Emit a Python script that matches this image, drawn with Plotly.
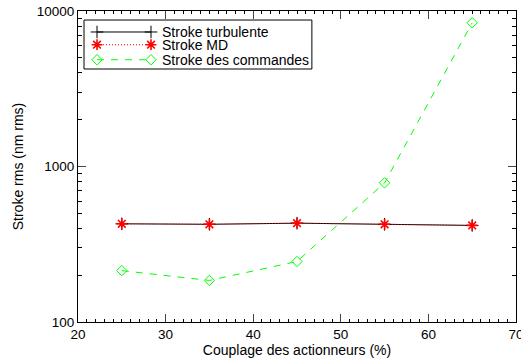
import plotly.graph_objects as go

couplage = [25, 35, 45, 55, 65]
stroke_turb = [428, 425, 432, 425, 418]
stroke_md = [428, 425, 432, 425, 418]
stroke_cmd = [214, 185, 245, 785, 8400]

series_names = ["Stroke turbulente", "Stroke MD", "Stroke des commandes"]
x_ticks = [20, 30, 40, 50, 60, 70]
y_ticks = [100, 1000, 10000]

font = "Liberation Sans, Arial, sans-serif"

styles = [
    dict(line=dict(color="black", width=1),
         marker=dict(symbol="cross-thin", size=9, color="black", line=dict(color="black", width=1))),
    dict(line=dict(color="red", width=1, dash="1px,2px"),
         marker=dict(symbol="asterisk", size=9, color="red", line=dict(color="red", width=1.6))),
    dict(line=dict(color="#00ff00", width=1, dash="7px,7px"),
         marker=dict(symbol="diamond-open", size=8, color="#00ff00", line=dict(color="#00ff00", width=1))),
]
values = [stroke_turb, stroke_md, stroke_cmd]

fig = go.Figure()
for name, vals, st in zip(series_names, values, styles):
    fig.add_trace(go.Scatter(x=couplage, y=vals, name=name, mode="lines+markers",
                             showlegend=False, **st))

# custom legend drawn in an overlay axis spanning the plot area (0..1)
leg_x0, leg_x1 = 0.0434, 0.1667
leg_text_x = 0.188
leg_rows = [0.9325, 0.8916, 0.8433]
for name, st, yy in zip(series_names, styles, leg_rows):
    fig.add_trace(go.Scatter(x=[leg_x0, leg_x1], y=[yy, yy], mode="lines+markers",
                             showlegend=False, xaxis="x2", yaxis="y2",
                             hoverinfo="skip", **st))
    fig.add_annotation(x=leg_text_x, y=yy, xref="x2", yref="y2", text=name,
                       showarrow=False, xanchor="left", yanchor="middle",
                       font=dict(size=14, family=font, color="black"))
fig.add_shape(type="rect", xref="x2", yref="y2", x0=0.0137, x1=0.534, y0=0.8135, y1=0.971,
              line=dict(color="black", width=1), fillcolor="rgba(0,0,0,0)")

fig.update_layout(
    width=521, height=363,
    margin=dict(l=78, r=5, t=11, b=41, autoexpand=False),
    paper_bgcolor="white", plot_bgcolor="white",
    font=dict(family=font, size=14, color="black"),
    showlegend=False,
    xaxis=dict(range=[20, 70], tickvals=x_ticks, ticks="inside", ticklen=8, tickwidth=1,
               automargin=False, ticklabeloverflow="allow",
               showline=True, linecolor="black", linewidth=1, mirror="allticks",
               showgrid=False, zeroline=False,
               minor=dict(dtick=1, ticks="inside", ticklen=3, tickcolor="black"),
               title=dict(text="Couplage des actionneurs (%)", standoff=1,
                          font=dict(size=14)),
               tickfont=dict(size=13.5)),
    yaxis=dict(type="log", range=[2, 4], tickvals=y_ticks,
               ticktext=[str(v) for v in y_ticks],
               automargin=False, ticklabeloverflow="allow",
               ticks="inside", ticklen=8, tickwidth=1,
               showline=True, linecolor="black", linewidth=1, mirror="allticks",
               showgrid=False, zeroline=False,
               minor=dict(tickvals=[200, 300, 400, 500, 600, 700, 800, 900,
                                    2000, 3000, 4000, 5000, 6000, 7000, 8000, 9000],
                          ticks="inside", ticklen=4, tickcolor="black"),
               title=dict(text="Stroke rms (nm rms)", standoff=9, font=dict(size=14)),
               tickfont=dict(size=13.5)),
    xaxis2=dict(overlaying="x", range=[0, 1], visible=False, fixedrange=True),
    yaxis2=dict(overlaying="y", range=[0, 1], visible=False, fixedrange=True),
)

fig.write_html("out.html", config={"displayModeBar": False},
               post_script="document.body.style.margin='0';document.body.style.overflow='hidden';")
